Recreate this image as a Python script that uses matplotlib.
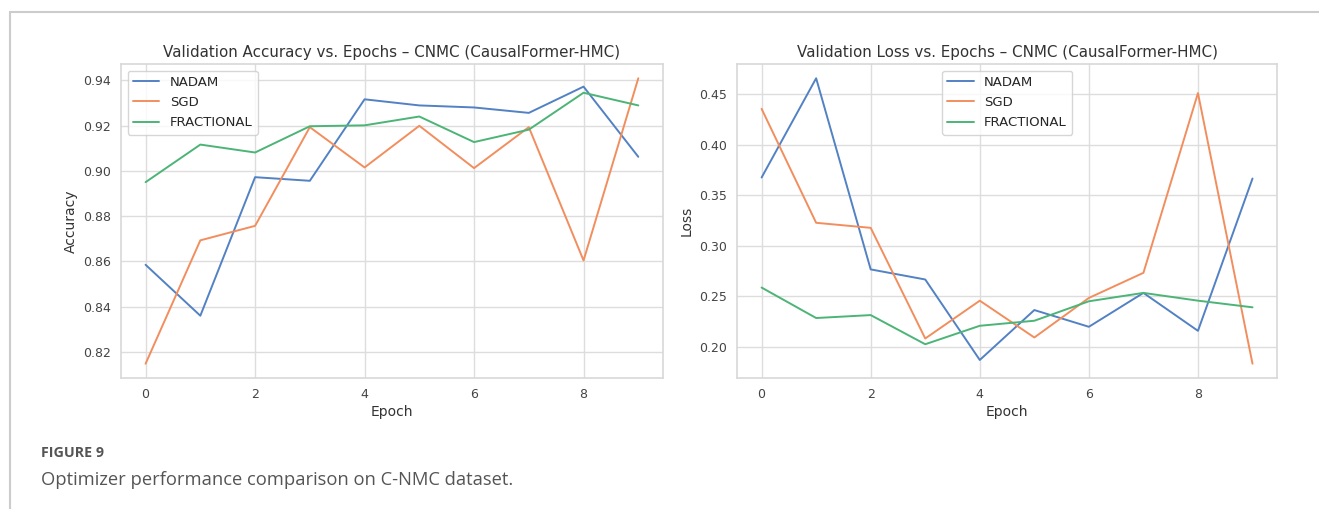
import numpy as np
import matplotlib
matplotlib.use('Agg')
from matplotlib import pyplot as plt
import seaborn as sns

# Resultados por época (validación) para cada optimizador
epochs = np.arange(10)
optimizers = ['NADAM', 'SGD', 'FRACTIONAL']

acc_nadam = [0.8585, 0.836, 0.8972, 0.8956, 0.9316, 0.9289, 0.928, 0.9256, 0.9372, 0.9062]
acc_sgd = [0.8148, 0.8693, 0.8757, 0.9193, 0.9015, 0.9199, 0.9012, 0.9193, 0.8604, 0.9409]
acc_frac = [0.895, 0.9116, 0.9081, 0.9197, 0.9201, 0.924, 0.9127, 0.9182, 0.9345, 0.9289]

loss_nadam = [0.3676, 0.466, 0.2765, 0.2665, 0.1867, 0.2362, 0.2196, 0.2532, 0.2156, 0.3666]
loss_sgd = [0.4357, 0.3227, 0.3177, 0.208, 0.2455, 0.209, 0.2482, 0.2731, 0.4513, 0.183]
loss_frac = [0.2585, 0.2283, 0.2312, 0.2023, 0.2206, 0.2256, 0.2449, 0.2532, 0.2455, 0.2389]

sns.set_style('whitegrid')
plt.rcParams['font.family'] = ['DejaVu Sans']

colors = ['#5281c4', '#f28e5e', '#4cb476']

fig = plt.figure(figsize=(13.19, 5.09), dpi=100)

ax1 = fig.add_axes([0.0917, 0.2574, 0.4109, 0.6169])
ax2 = fig.add_axes([0.5588, 0.2574, 0.4094, 0.6169])

for ax, series, ylabel, title, loc in [
    (ax1, [acc_nadam, acc_sgd, acc_frac], 'Accuracy',
     'Validation Accuracy vs. Epochs – CNMC (CausalFormer-HMC)', 'upper left'),
    (ax2, [loss_nadam, loss_sgd, loss_frac], 'Loss',
     'Validation Loss vs. Epochs – CNMC (CausalFormer-HMC)', 'upper center'),
]:
    for vals, name, c in zip(series, optimizers, colors):
        ax.plot(epochs, vals, label=name, color=c, linewidth=1.4)
    ax.set_title(title, fontsize=10.9, color='#333333', pad=5)
    ax.set_xlabel('Epoch', fontsize=10, color='#333333', labelpad=3)
    ax.set_ylabel(ylabel, fontsize=10, color='#333333', labelpad=4)
    ax.tick_params(labelsize=9, colors='#444444')
    ax.grid(color='#dddddd', linewidth=1)
    for s in ax.spines.values():
        s.set_color('#d8d8d8')
        s.set_linewidth(1.2)
    ax.legend(loc=loc, fontsize=9.5, frameon=True, labelspacing=0.55)

ax1.set_yticks([0.82, 0.84, 0.86, 0.88, 0.90, 0.92, 0.94])
ax2.set_yticks([0.20, 0.25, 0.30, 0.35, 0.40, 0.45])

# Marco de la página y pie de figura
fig.add_artist(plt.Line2D([10 / 1319, 1], [1 - 12 / 509, 1 - 12 / 509],
                          transform=fig.transFigure, color='#cccccc', linewidth=1.5))
fig.add_artist(plt.Line2D([10 / 1319, 10 / 1319], [0, 1 - 12 / 509],
                          transform=fig.transFigure, color='#cccccc', linewidth=1.5))
fig.text(41 / 1319, 1 - 453 / 509, 'FIGURE 9', fontsize=10.3, color='#555555',
         fontweight='bold', family='Open Sans', va='center')
fig.text(41 / 1319, 1 - 480 / 509, 'Optimizer performance comparison on C-NMC dataset.',
         fontsize=13.2, color='#555555', family='Open Sans', va='center')

fig.savefig('out.png', dpi=100)
